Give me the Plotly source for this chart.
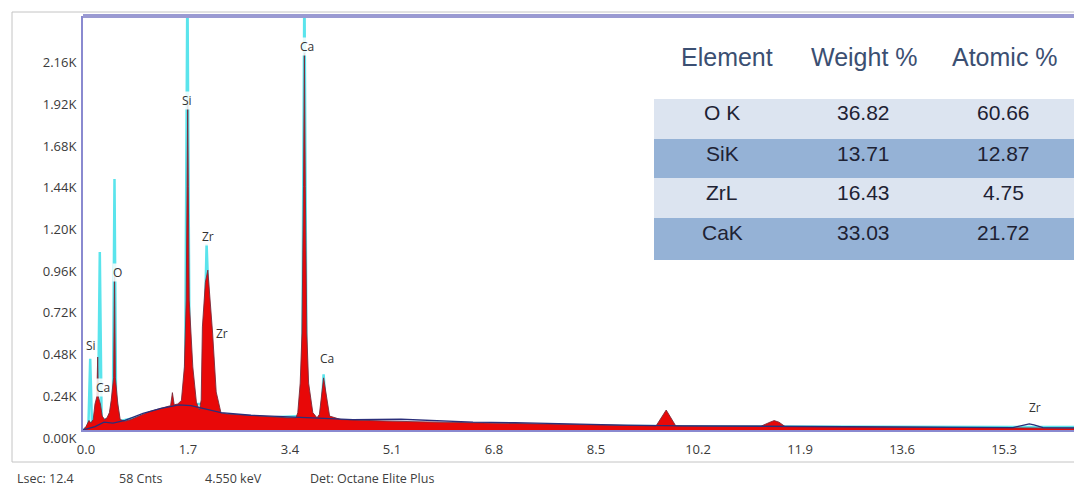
import plotly.graph_objects as go

# ---------------- data ----------------
# measured spectrum (red fill): energy (keV) and counts
spec_keV = [0.00, 0.05, 0.10, 0.13, 0.17, 0.20, 0.23, 0.245, 0.255, 0.29, 0.32, 0.36, 0.40, 0.44,
            0.47, 0.51, 0.525, 0.54, 0.58, 0.62, 0.70, 0.80, 0.90, 1.00, 1.10, 1.20, 1.30, 1.40,
            1.46, 1.49, 1.52, 1.58, 1.64, 1.69, 1.72, 1.735, 1.745, 1.755, 1.77, 1.83, 1.89, 1.94,
            1.97, 1.99, 2.04, 2.08, 2.16, 2.22, 2.30, 2.40, 2.60, 2.80, 3.00, 3.20, 3.40, 3.55,
            3.58, 3.62, 3.65, 3.675, 3.69, 3.705, 3.73, 3.76, 3.83, 3.90, 3.94, 4.01, 4.11, 4.30,
            4.60, 5.00, 5.50, 6.00, 6.50, 7.00, 7.60, 8.00, 8.50, 9.00, 9.55, 9.72, 9.88, 10.50,
            11.30, 11.45, 11.52, 11.60, 11.70, 12.50, 13.50, 14.50, 15.60, 16.65]
spec_cnt = [0, 20, 55, 40, 60, 150, 190, 420, 190, 150, 80, 60, 70, 100,
            170, 300, 900, 300, 150, 60, 50, 60, 75, 90, 105, 115, 125, 135,
            140, 215, 145, 150, 170, 363, 748, 1400, 1900, 1400, 748, 363, 160, 115,
            173, 593, 850, 920, 558, 219, 98, 92, 88, 82, 78, 72, 70, 70,
            100, 270, 558, 1400, 2170, 1400, 558, 270, 100, 70, 90, 300, 80, 60,
            55, 52, 48, 45, 40, 38, 35, 32, 28, 25, 23, 115, 23, 22,
            22, 45, 54, 45, 20, 18, 16, 14, 12, 10]

# overlay spectrum (cyan)
over_keV = [0.00, 0.09, 0.12, 0.15, 0.25, 0.28, 0.31, 0.45, 0.50, 0.525, 0.55, 0.60, 1.00, 1.50,
            1.70, 1.74, 1.78, 2.00, 2.06, 2.14, 2.25, 3.00, 3.65, 3.69, 3.73, 3.97, 4.01, 4.06,
            5.00, 8.00, 11.00, 16.65]
over_cnt = [0, 20, 410, 20, 60, 1024, 60, 60, 200, 1445, 200, 50, 80, 120,
            150, 2600, 150, 150, 1070, 300, 90, 70, 80, 2600, 80, 60, 320, 60,
            40, 25, 20, 17]

# background (dark blue line)
bg_keV = [0.0, 0.2, 0.35, 0.5, 0.7, 1.0, 1.3, 1.6, 1.8, 2.0, 2.3, 2.8, 3.4, 4.0, 4.5, 5.3,
          5.8, 6.5, 7.2, 8.0, 9.0, 10.0, 11.0, 12.0, 13.5, 15.5, 15.7, 15.77, 15.85, 16.0, 16.65]
bg_cnt = [0, 20, 45, 40, 55, 95, 125, 145, 140, 125, 100, 85, 75, 65, 60, 62,
          55, 45, 42, 35, 28, 24, 22, 20, 17, 14, 30, 35, 30, 14, 12]

# peak labels
lab_text = ["Si", "Ca", "Zr", "O", "Zr", "Si", "Ca", "Ca", "Zr"]
lab_keV = [1.74, 3.74, 2.08, 0.575, 2.31, 0.125, 0.34, 4.07, 15.86]
lab_cnt = [1899, 2205, 1111, 909, 553, 489, 242, 409, 127]

# axis ticks
x_ticks = [0.0, 1.7, 3.4, 5.1, 6.8, 8.5, 10.2, 11.9, 13.6, 15.3]
x_ticktext = ["0.0", "1.7", "3.4", "5.1", "6.8", "8.5", "10.2", "11.9", "13.6", "15.3"]
y_ticks = [0, 240, 480, 720, 960, 1200, 1440, 1680, 1920, 2160]
y_ticktext = ["0.00K", "0.24K", "0.48K", "0.72K", "0.96K", "1.20K", "1.44K", "1.68K", "1.92K", "2.16K"]

# quantification table
tbl_header = ["Element", "Weight %", "Atomic %"]
tbl_element = ["O K", "SiK", "ZrL", "CaK"]
tbl_weight = ["36.82", "13.71", "16.43", "33.03"]
tbl_atomic = ["60.66", "12.87", "4.75", "21.72"]

# footer status line
footer = ["Lsec: 12.4", "58 Cnts", "4.550 keV", "Det: Octane Elite Plus"]

# ---------------- layout geometry ----------------
OFF = 8                       # page body margin
W, H = 1074, 483
L, R, T = 75, 0, 8
B = H - (430 - OFF)
PW, PH = W - L - R, H - T - B


def px(x):
    """screen x -> paper"""
    return (x - OFF - L) / PW


def py(y):
    """screen y -> paper"""
    return (H - B - (y - OFF)) / PH


fig = go.Figure()

fig.add_trace(go.Scatter(x=over_keV, y=over_cnt, mode="lines",
                         line=dict(color="#5ae4ec", width=2.5), hoverinfo="skip"))
fig.add_trace(go.Scatter(x=spec_keV, y=spec_cnt, mode="lines", fill="tozeroy",
                         fillcolor="#e80808", line=dict(color="#7a2a3a", width=0.9),
                         hoverinfo="skip"))
fig.add_trace(go.Scatter(x=bg_keV, y=bg_cnt, mode="lines",
                         line=dict(color="#2a2f7a", width=1.3), hoverinfo="skip"))

annotations = []
for t, xk, yc in zip(lab_text, lab_keV, lab_cnt):
    annotations.append(dict(x=xk, y=yc, xref="x", yref="y", text=t, showarrow=False,
                            xanchor="center", yanchor="middle",
                            font=dict(family="Open Sans", size=12, color="#333333"),
                            bgcolor="rgba(255,255,255,0.85)", borderpad=0))

shapes = []
# outer gray frame
shapes.append(dict(type="rect", xref="paper", yref="paper", x0=px(12), x1=px(1095),
                   y0=py(462), y1=py(12), line=dict(color="#c4c4c4", width=1), layer="below"))
# thick top border of plot
shapes.append(dict(type="line", xref="paper", yref="paper", x0=0, x1=1.01, y0=1, y1=1,
                   line=dict(color="#9a9ad2", width=4)))

# table
tab_x0, tab_x1 = px(654), px(1076)
row_edges = [99, 139, 178, 218, 260]
row_fill = ["#dce4f0", "#95b2d6", "#dce4f0", "#95b2d6"]
for i in range(4):
    shapes.append(dict(type="rect", xref="paper", yref="paper", x0=tab_x0, x1=tab_x1,
                       y0=py(row_edges[i + 1]), y1=py(row_edges[i]),
                       line=dict(width=0), fillcolor=row_fill[i], layer="above"))
col_x = [722, 863, 1003]
head_x = [727, 864, 1005]
for hx, ht in zip(head_x, tbl_header):
    annotations.append(dict(x=px(hx), y=py(57), xref="paper", yref="paper", text=ht,
                            xanchor="center", yanchor="middle", showarrow=False,
                            font=dict(family="Liberation Sans", size=25, color="#3b4f72")))
row_y = [112, 153, 192, 232]
for i in range(4):
    for cx, val in zip(col_x, [tbl_element[i], tbl_weight[i], tbl_atomic[i]]):
        annotations.append(dict(x=px(cx), y=py(row_y[i]), xref="paper", yref="paper",
                                text=val, showarrow=False, xanchor="center", yanchor="middle",
                                font=dict(family="Liberation Sans", size=21, color="#1e2233")))

# footer
for fx, ft in zip([15, 117, 203, 308], footer):
    annotations.append(dict(x=px(fx), y=py(478), xref="paper", yref="paper", text=ft,
                            xanchor="left", yanchor="middle", showarrow=False,
                            font=dict(family="Open Sans", size=12.5, color="#404040")))

fig.update_layout(
    width=W, height=H,
    margin=dict(l=L, r=R, t=T, b=B, pad=0),
    paper_bgcolor="white", plot_bgcolor="white",
    showlegend=False,
    annotations=annotations,
    shapes=shapes,
    xaxis=dict(range=[0, PW / 60.0], tickvals=x_ticks, ticktext=x_ticktext,
               showgrid=False, zeroline=False, showline=True, linecolor="#8a8ad0",
               linewidth=2, ticks="", ticklabelshift=3, ticklabelstandoff=6,
               tickfont=dict(family="Open Sans", size=13, color="#3a3a3a")),
    yaxis=dict(range=[0, (430 - 16) * 5.755], tickvals=y_ticks, ticktext=y_ticktext,
               showgrid=False, zeroline=False, showline=True, linecolor="#8a8ad0",
               linewidth=2, ticks="", ticklabelshift=8, ticklabelstandoff=2,
               tickfont=dict(family="Open Sans", size=13, color="#3a3a3a")),
)

fig.write_html("out.html")
